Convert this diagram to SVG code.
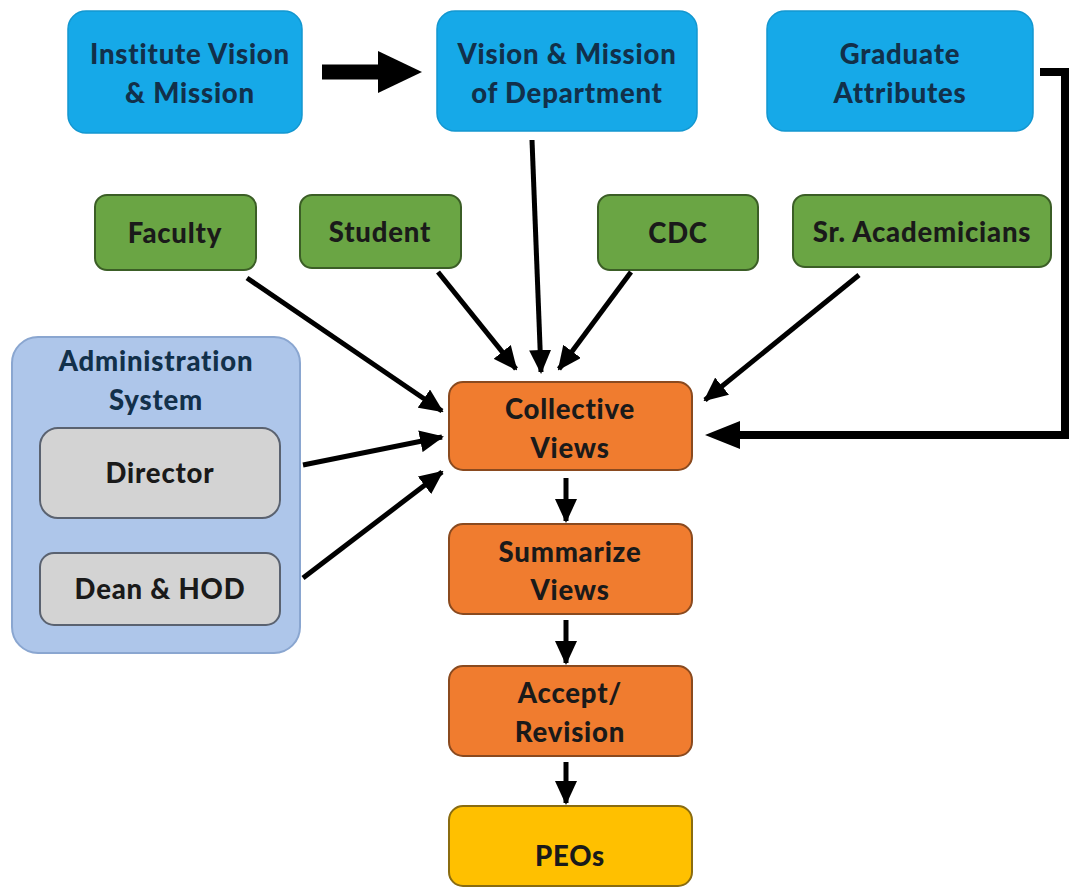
<svg xmlns="http://www.w3.org/2000/svg" width="1072" height="894" viewBox="0 0 1072 894">
<defs>
<style>
.t{font-family:Lato,"Open Sans","Liberation Sans",sans-serif;font-weight:900;font-size:27.5px;letter-spacing:0.8px;text-anchor:middle;fill:#1a1a1a}
.tb{fill:#12304a}
.blue{fill:#16a9e8;stroke:#1397d0;stroke-width:1.5}
.green{fill:#6aa544;stroke:#3b5e26;stroke-width:2}
.orange{fill:#f07c2f;stroke:#8a4a1f;stroke-width:2}
.gray{fill:#d3d3d3;stroke:#5a6270;stroke-width:2}
.adm{fill:#aec6ea;stroke:#8aa6d0;stroke-width:2}
.yellow{fill:#ffc000;stroke:#8a6c10;stroke-width:2}
.c{fill:none;stroke:#000;stroke-width:5}
</style>
<marker id="ah" markerUnits="userSpaceOnUse" markerWidth="24" markerHeight="22" refX="22" refY="11" orient="auto">
<path d="M0,0 L24,11 L0,22 Z" fill="#000"/>
</marker>
</defs>
<rect width="1072" height="894" fill="#fff"/>
<g id="institute">
<rect class="blue" x="68" y="11" width="234" height="122" rx="18"/>
<text class="t tb" x="190" y="64">Institute Vision</text>
<text class="t tb" x="190" y="103">&amp; Mission</text>
</g>
<g id="department">
<rect class="blue" x="437" y="11" width="260" height="120" rx="18"/>
<text class="t tb" x="567" y="64">Vision &amp; Mission</text>
<text class="t tb" x="567" y="103">of Department</text>
</g>
<g id="graduate">
<rect class="blue" x="767" y="11" width="266" height="120" rx="18"/>
<text class="t tb" x="900" y="64">Graduate</text>
<text class="t tb" x="900" y="103">Attributes</text>
</g>
<g id="faculty">
<rect class="green" x="95" y="195" width="161" height="75" rx="12"/>
<text class="t" x="175" y="243">Faculty</text>
</g>
<g id="student">
<rect class="green" x="300" y="195" width="161" height="73" rx="12"/>
<text class="t" x="380" y="242">Student</text>
</g>
<g id="cdc">
<rect class="green" x="598" y="195" width="160" height="75" rx="12"/>
<text class="t" x="678" y="243">CDC</text>
</g>
<g id="sracad">
<rect class="green" x="793" y="195" width="258" height="72" rx="12"/>
<text class="t" x="922" y="242">Sr. Academicians</text>
</g>
<g id="admin">
<rect class="adm" x="12" y="337" width="288" height="316" rx="26"/>
<text class="t tb" x="156" y="371">Administration</text>
<text class="t tb" x="156" y="410">System</text>
</g>
<g id="director">
<rect class="gray" x="40" y="428" width="240" height="90" rx="18"/>
<text class="t" x="160" y="483">Director</text>
</g>
<g id="dean">
<rect class="gray" x="40" y="553" width="240" height="72" rx="14"/>
<text class="t" x="160" y="599">Dean &amp; HOD</text>
</g>
<g id="collective">
<rect class="orange" x="449" y="382" width="243" height="88" rx="14"/>
<text class="t" x="570" y="419">Collective</text>
<text class="t" x="570" y="458">Views</text>
</g>
<g id="summarize">
<rect class="orange" x="449" y="524" width="243" height="90" rx="14"/>
<text class="t" x="570" y="562">Summarize</text>
<text class="t" x="570" y="600">Views</text>
</g>
<g id="accept">
<rect class="orange" x="449" y="666" width="243" height="90" rx="14"/>
<text class="t" x="570" y="703">Accept/</text>
<text class="t" x="570" y="742">Revision</text>
</g>
<g id="peos">
<rect class="yellow" x="449" y="806" width="243" height="80" rx="14"/>
<text class="t" x="570" y="866">PEOs</text>
</g>
<g id="connectors">
<path d="M322,72 H380" stroke="#000" stroke-width="15" fill="none"/>
<path d="M378,51 L422,72 L378,93 Z" fill="#000"/>
<path class="c" d="M532,140 L541,372" marker-end="url(#ah)"/>
<path class="c" d="M247,278 L442,411" marker-end="url(#ah)"/>
<path class="c" d="M438,272 L516,369" marker-end="url(#ah)"/>
<path class="c" d="M631,272 L559,369" marker-end="url(#ah)"/>
<path class="c" d="M859,275 L705,400" marker-end="url(#ah)"/>
<path class="c" d="M303,465 L442,437" marker-end="url(#ah)"/>
<path class="c" d="M303,578 L442,472" marker-end="url(#ah)"/>
<path class="c" d="M566,478 L566,521" marker-end="url(#ah)"/>
<path class="c" d="M566,620 L566,663" marker-end="url(#ah)"/>
<path class="c" d="M566,762 L566,803" marker-end="url(#ah)"/>
<path d="M1040,72 H1065 V435 H735" stroke="#000" stroke-width="8" fill="none"/>
<path d="M740,421 L705,435 L740,449 Z" fill="#000"/>
</g>
</svg>
